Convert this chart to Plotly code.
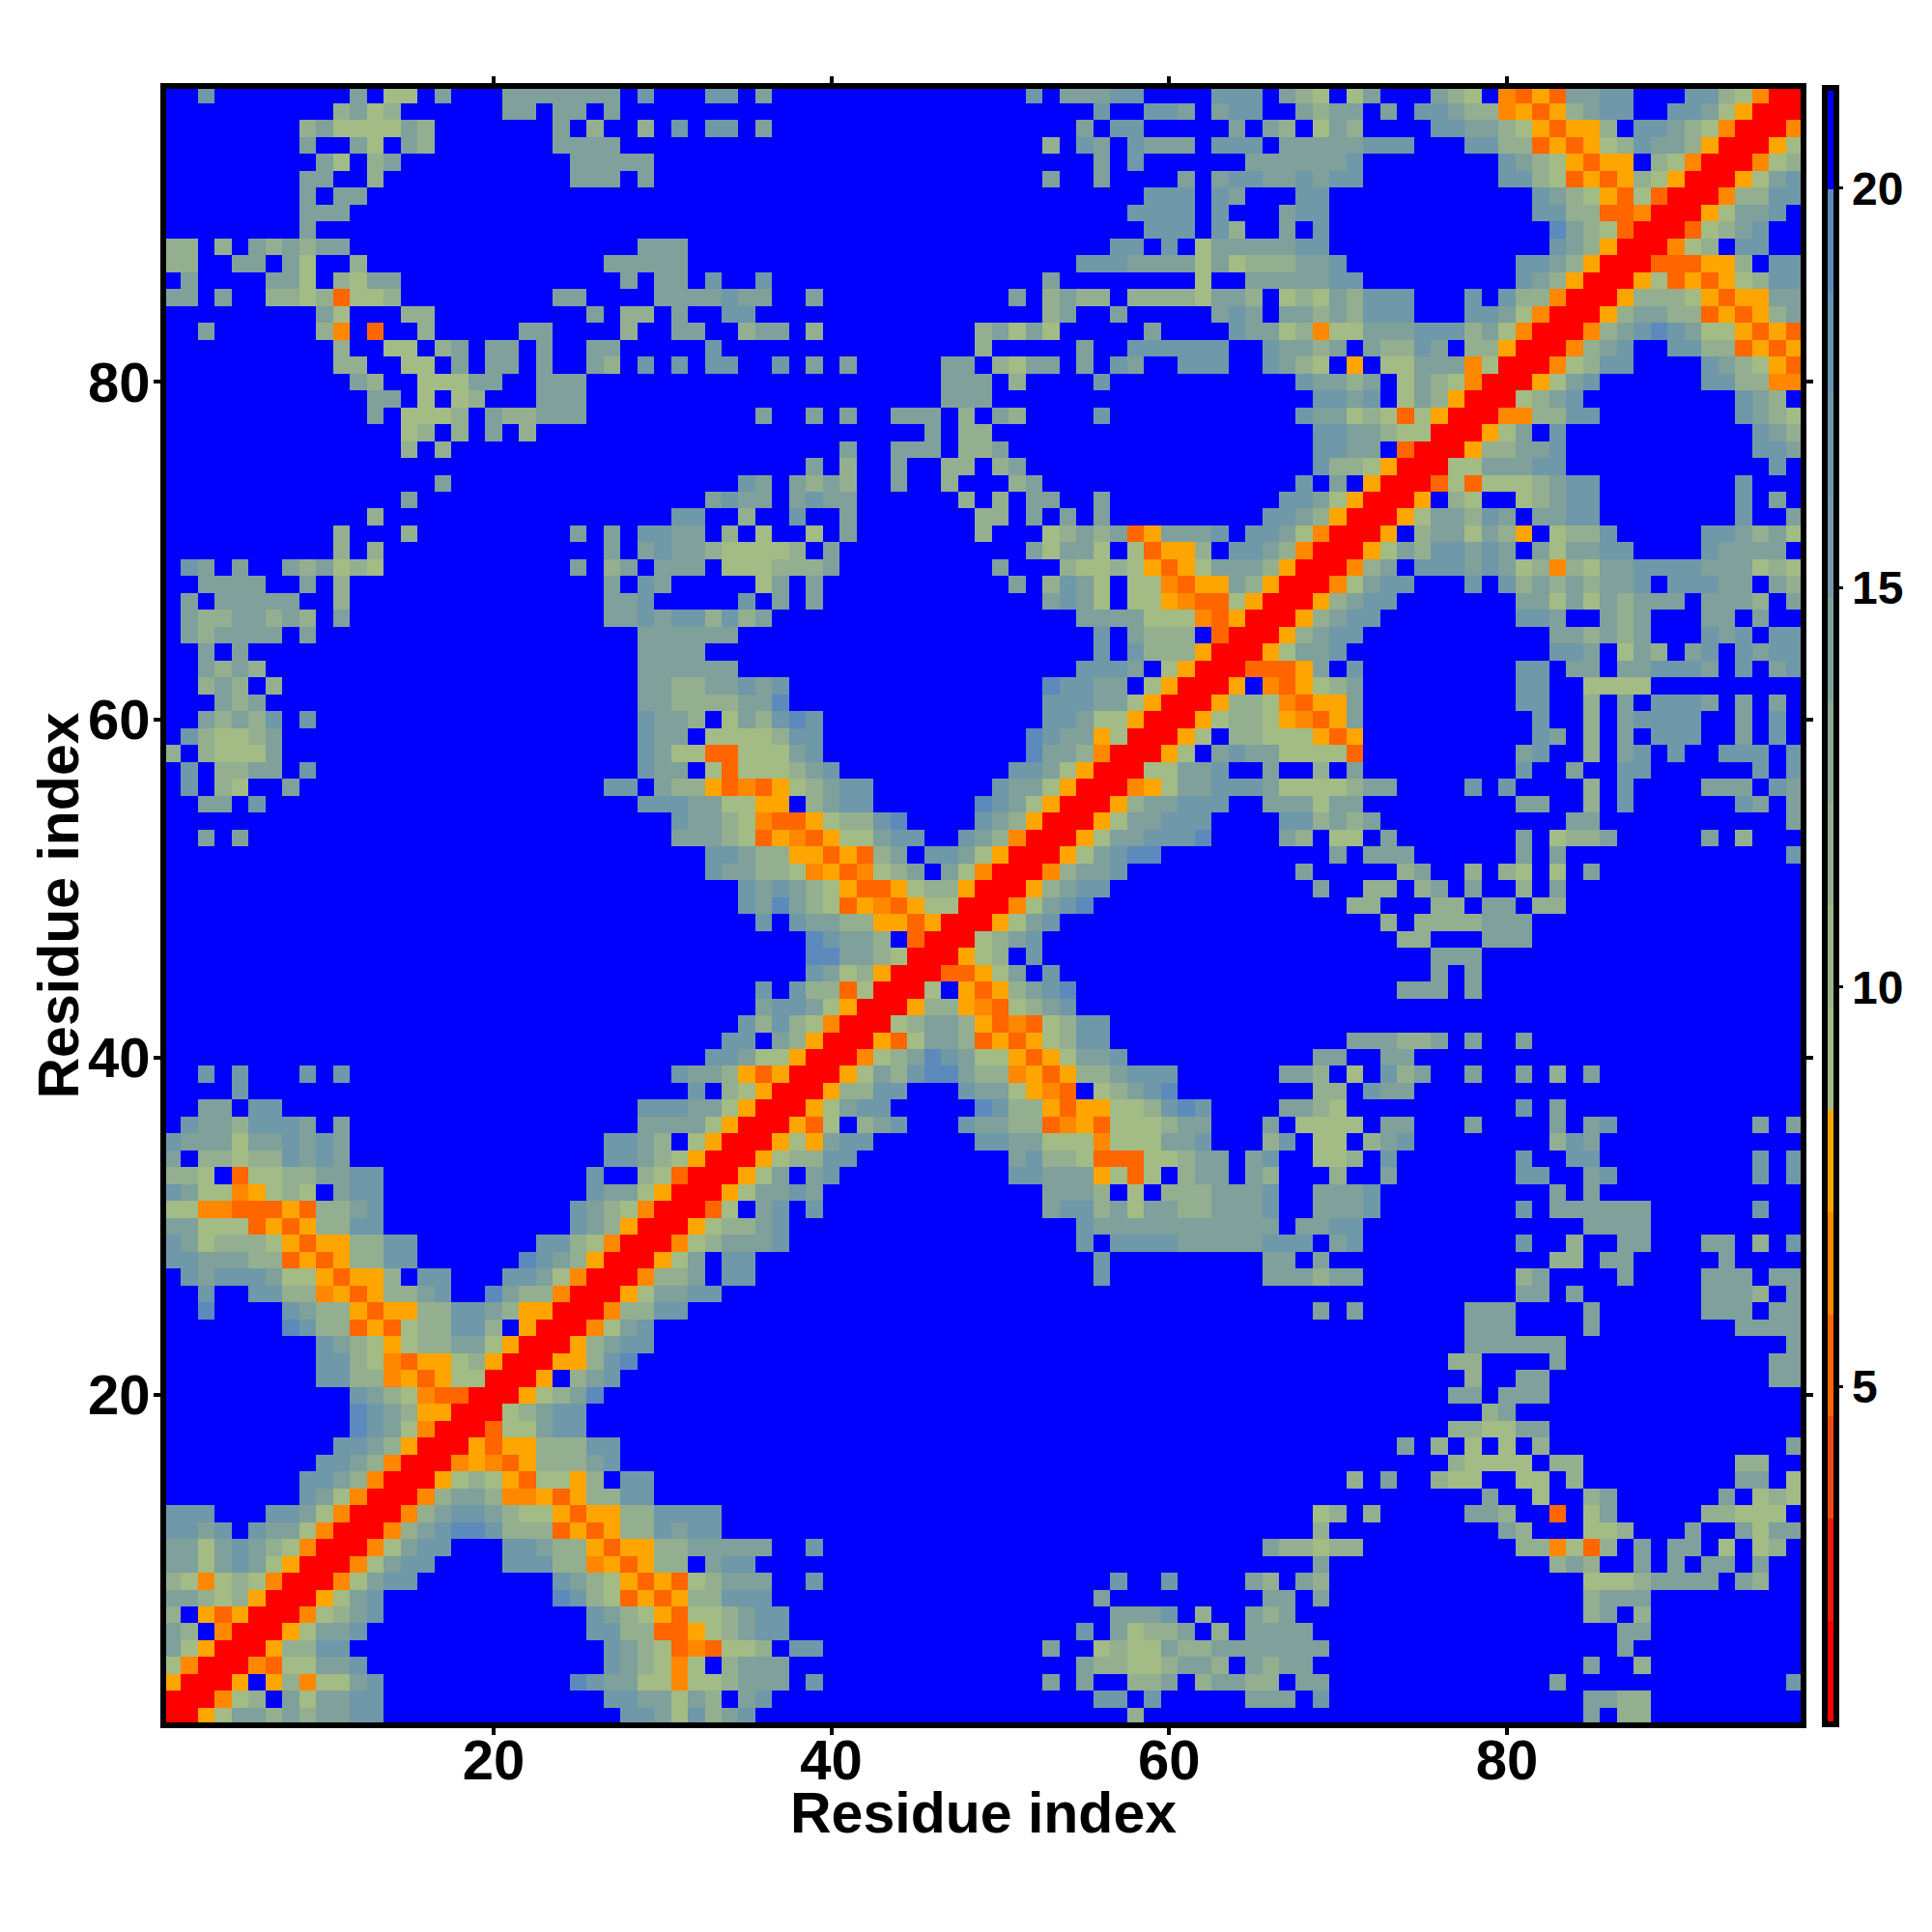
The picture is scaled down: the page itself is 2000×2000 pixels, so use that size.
import plotly.graph_objects as go

N = 97
residues = list(range(1, N + 1))
x_ticks = [20, 40, 60, 80]
y_ticks = [20, 40, 60, 80]
cbar_ticks = [5, 10, 15, 20]
z_low, z_high = 0.78, 21.26
axis_title = "Residue index"

# distance (Angstrom) standing for each letter
level_value = {"R": 1.4, "O": 5.3, "A": 6.5, "G": 7.8, "1": 9.1, "2": 11.7, "3": 14.2, "4": 16.8, "5": 19.4, ".": 20.6}

# rows start on the diagonal: first letter of entry i is residue pair (i+1, i+1)
near_start_rows = [
"RRG1332323344..............4","RRA12.313344.............44","RRG.G2A1134...........5433","RRAO11334..............43",
"RRG2244...............43","RRG1334.............442","RRA1234............432","RRG134..........5421O",
"RRA1344........4321G","RRA1344....44422AGO","RRA1344...44322GOG","RRA23455422 2OGOG2".replace(" ",""),
"RRA23443211GOGG2","RRA2332AAGOG224","RRG121GO11G2.4","RRAGAOG22234.","RRGOGG22244.","RRO11344...","RR12344...",
"RRG1235..","RRG.234.","RRGG245","RRG234","RRA13","RRA2","RRG","RR","R",
]
# x 28..62, listed from y=35 down to y=1
near_middle_rows = [
"432.1GRRRG1G344......443311 1A1113 34".replace(" ",""),
"3321GRRRG12244.........34221OOO1123".replace(" ",""),
".21ORRRG13.34..........44333G1O1.23",
"31GRRRG13343.............3332.1.222",
"1ARRRO1.34.4.............3442313322",
"GRRRG12234.................43333333",
"RRRA123334.................4.444433",
"RRG13.44....................4......",
"RA223.44....................4......",
"G13344.............................",
"1244...............................",
"34.................................",
"34.................................",
"4..................................",
"...................................",
"...................................",
"...................................",
"...................................",
"...................................",
"...................................",
"44.................................",
"44.................................",
"224444.............................",
"224344.............................",
"GG2233333..4.......................",
"OG22.344...........................",
"GOGO12333..4.................4..4..",
"OGOG22444...................3......",
"11GO112344...................3334.2",
"22OOG12344.................4.312 23".replace(" ",""),
"321OAO112.44.............3..1211322",
"321A1.2333.................32211233",
"311A112333.4.............3.3..223.2",
"433132.34...................44.4...",
"44314234......................2....",
]
# x 63..97, listed from y=35 down to y=1
far_low_rows = [
"...24.11.234........243............",
"3.34..112.4.......4..44.........4.4",
"3.32...2..3.......44..34........4.4",
"3334..3334..........3.3............",
"3334..3334........4.333333......4..",
"3333.3344.............3333.........",
"333444.34.........4..2..33...33.2.4",
"...33.3.............22.33.....3....",
"...333233.........23....3....333.33",
"..................33.3.......3332.3",
"......3.3......333....3......333.33",
"...............333....3........3333",
"...............333333.............3",
"..............22....3............33",
"...............2..33.............33",
"..............33.333...............",
"................23.................",
"..............221133...............",
"...........3.2.1.1.2..............3",
"..............21111.22.........22..",
"........2.3..2 11..11.2.........33.1".replace(" ",""),
"................3..1..23......3.121",
"......12.2.....332..O.13.....22111.",
"......2..........32...112...3..3133",
"...322122.........22A1O2.3.33.1.12.",
"......3.............232..3.3.33.3..",
"..32.32...............11123333.32..",
"...33.3...............2333.........",
"..323.................23.2.........",
"2.3333..................33.........",
"3333333.................3..........",
"2.3233................3..2.........",
"3322.33.............3.............4",
"..333.4...............3322.........",
"......................3.22.........",
]
# triangle on the diagonal, y=36..62 up to x=62
mid_tri_rows = [
"RRGO1.234...43322OAGO111233","RRG1344.....5422GOGG112454","RRG2244...4331GAO.12345..",
"RRG132455322AGOG223444..","RRA12354311GOG13 34.....".replace(" ",""),"RRGO1332OGOG1244......",
"RR12332GOAO1244......","RRG22GAO1234........","RR1.GOG2345........","RROOG13.4.........",
"RRG12.4..........","RR1234..........","RRG134.........","RRA1345.......","RRG2344......","RRA2334.....",
"RRG13455...","RRG1334445","RRG133444","RRG23344","RRAG133","RR1133","RRG1.","RRG1","RRG","RR","R",
]
# x 63..97, listed from y=70 down to y=36
far_mid_rows = [
".4431ARRRG13244343.313344....43333.",
"2331GRRRA23.444343 12A21334444333121".replace(" ",""),
"G22GRRRA1344...4.423232334.44433.32",
"O1GRRRG2344.......3313132333.3332.3",
"OGRRRG2344........443..323...33.3..",
"ORRRG2344...........332323...434.44",
"RRRG1334............443.132.34.4344",
"RROOOG3.4.........44.33.33444 3.4.34".replace(" ",""),
"RG.AOG123.........44..1111.........",
"G221AOGG3.........44..2.3.4443.3.3.",
"1221GAOG3..........4..2.34444..3.4.",
".22111GOG..........43.2.3.444..3.4.",
"34331111O.........34..2.34.4..444.4",
"4..3..2.3.........4..3..44......4.4",
"44431111233....4.4....2.4....333.43",
"4..333133.........33..2.4......43.3",
"....442323...........33...........3",
"....32.11.3.......3.1223.....3.2...",
".......3.333......3.3.............4",
".....3.....23..2.21.1.3............",
"......3..22.23.3..2.3..............",
"........22...22.33.22..............",
"..........2.2222333................",
"...........22...333................",
".............333...................",
".............3.3...................",
"...........333.3...................",
"...................................",
"...................................",
"........333223.3..3................",
"......33..33.......................",
"....332.1.423..3..3.2.3............",
"......22.433.......................",
"....3321..........4.3..............",
"...3.1111.33...3....3.34........3.3",
]
# rows start on the diagonal, y=71..97
top_tri_rows = [
"RRG.233132G.1224.....443231","RRG133243.3344........4..3","RRG.21..12344........4.3.","RRO1O1112344........4...",
"RR1133344............4.","RRG22334...........443","RRG13.4...........432","RRAA2244........4321","RR1234.........432.",
"RRG134......4422AA","RRA1244....4321GO","RRA234..4422OGOG","RRA23454311GOGO","RRG23322OGOG23","RRG2221GOGG33",
"RRG1OGOG1244","RROOOGG2.44","RRA12.44..","RRO1234..","RRG1334.","RRA2244","RRG134","RRA12","RRG1","RRA","RR","R",
]

z = [[level_value["."]] * N for _ in range(N)]

def put(x, y, code):
    if x < y or x > N:
        return
    v = level_value[code]
    z[y - 1][x - 1] = v
    z[x - 1][y - 1] = v

def put_rect(rows, x0, y_top):
    for r, row in enumerate(rows):
        for k, code in enumerate(row):
            put(x0 + k, y_top - r, code)

def put_tri(rows, y0):
    for r, row in enumerate(rows):
        for k, code in enumerate(row):
            put(y0 + r + k, y0 + r, code)

put_rect(near_middle_rows, 28, 35)
put_rect(far_low_rows, 63, 35)
put_rect(far_mid_rows, 63, 70)
put_tri(near_start_rows, 1)
put_tri(mid_tri_rows, 36)
put_tri(top_tri_rows, 71)

band_colors = ["#ff0000", "#f01a08", "#f04a10", "#ff6600", "#ff8800", "#ffa500",
               "#a3bb84", "#9cb68a", "#93af8f", "#8aa895", "#7fa09b", "#7599a6",
               "#6f98a8", "#6693b2", "#5c8abc", "#0000ff"]
n = len(band_colors)
scale = []
for i, c in enumerate(band_colors):
    scale += [[i / n, c], [(i + 1) / n, c]]

L, R, T, B = 172, 1864, 92, 1783
fig = go.Figure(go.Heatmap(
    x=residues, y=residues, z=z, zmin=z_low, zmax=z_high, colorscale=scale, hoverinfo="skip",
    colorbar=dict(
        x=(1889 - L) / (R - L), xanchor="left", xpad=0, ypad=0, thickness=12, len=1.002, y=0.5, yanchor="middle",
        outlinecolor="black", outlinewidth=6, tickvals=cbar_ticks, ticks="outside", ticklen=4, tickwidth=3,
        tickcolor="black", tickfont=dict(family="Liberation Sans", size=48, color="black", weight="bold"),
    ),
))
axis = dict(ticks="outside", ticklen=7, tickwidth=4, tickcolor="black", showline=True, linecolor="black",
            linewidth=6, mirror="ticks", showgrid=False, zeroline=False,
            tickfont=dict(family="Liberation Sans", size=58, color="black", weight="bold"))
fig.update_xaxes(range=[0.614, 97.39], tickvals=x_ticks, ticklabelstandoff=-24, **axis)
fig.update_yaxes(range=[0.614, 97.35], tickvals=y_ticks, ticklabelstandoff=-8, **axis)
title_font = dict(family="Liberation Sans", size=59, color="black", weight="bold")
fig.add_annotation(text=axis_title, xref="paper", yref="paper", x=0.5, y=(B - 1877) / (B - T), xanchor="center",
                   yanchor="middle", showarrow=False, font=title_font)
fig.add_annotation(text=axis_title, xref="paper", yref="paper", x=(60 - L) / (R - L), y=0.5, xanchor="center",
                   yanchor="middle", textangle=-90, showarrow=False, font=title_font)
fig.update_layout(width=2000, height=2000, margin=dict(l=L, r=2000 - R, t=T, b=2000 - B, autoexpand=False),
                  paper_bgcolor="white", plot_bgcolor="white")
fig.write_html("out.html", config=dict(displayModeBar=False), post_script="document.body.style.margin='0';")
